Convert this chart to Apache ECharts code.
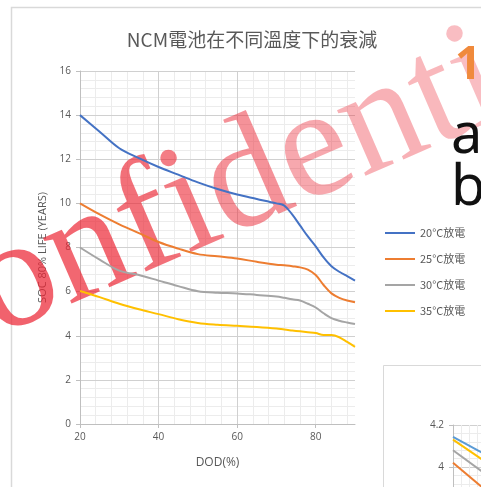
<!DOCTYPE html>
<html>
<head>
<meta charset="utf-8">
<script src="https://cdn.jsdelivr.net/npm/echarts@6/dist/echarts.min.js"></script>
<style>
  html, body { margin: 0; padding: 0; background: #ffffff; }
  #chart { width: 481px; height: 487px; }
</style>
</head>
<body>
<div id="chart"></div>
<script>
// Depth of discharge (%) sample points
const dod = [20, 25, 30, 35, 40, 45, 50, 55, 60, 65, 70, 72, 74, 76, 78, 80, 82, 84, 86, 88, 90];

// Life to 80% SOC (years) per discharge temperature
const life20 = [14.0, 13.25, 12.5, 12.05, 11.65, 11.3, 10.95, 10.65, 10.4, 10.2, 10.0, 9.9, 9.5, 9.0, 8.5, 8.05, 7.55, 7.15, 6.9, 6.7, 6.5];
const life25 = [10.0, 9.5, 9.05, 8.65, 8.25, 7.95, 7.7, 7.6, 7.5, 7.35, 7.22, 7.2, 7.15, 7.1, 7.0, 6.75, 6.3, 5.92, 5.72, 5.6, 5.52];
const life30 = [8.0, 7.45, 6.95, 6.75, 6.5, 6.25, 6.02, 5.95, 5.92, 5.85, 5.78, 5.72, 5.65, 5.6, 5.45, 5.28, 5.02, 4.8, 4.68, 4.6, 4.53];
const life35 = [6.03, 5.75, 5.45, 5.2, 4.98, 4.75, 4.58, 4.5, 4.45, 4.4, 4.33, 4.28, 4.24, 4.2, 4.16, 4.12, 4.03, 4.03, 3.93, 3.72, 3.5];

const seriesNames = ['20°C放電', '25°C放電', '30°C放電', '35°C放電'];
const xTicks = [20, 40, 60, 80];

// Second (partly visible) chart in the lower right corner
const insetX = [0, 2];
const insetBlue = [4.143, 4.04];
const insetYellow = [4.13, 4.0];
const insetGray = [4.08, 3.94];
const insetOrange = [4.02, 3.86];

const pair = (xs, ys) => xs.map((x, i) => [x, ys[i]]);

const labelColor = '#595959';
const axisColor = '#bfbfbf';
const majorGrid = '#d0d0d0';
const minorGrid = '#ececec';
const uiFont = '"Open Sans", "Noto Sans", sans-serif';

// Watermark: letters laid out along a tilted baseline, fading to the right
const wmText = 'Confidential';
const wmSize = 156;
const wmFamily = '"Liberation Serif", "DejaVu Serif", serif';
const wmAngle = 23.5 * Math.PI / 180;
const wmStart = [-115, 340];
const wmAlpha = [0.72, 0.72, 0.7, 0.66, 0.6, 0.5, 0.4, 0.36, 0.33, 0.3, 0.3, 0.3];

function watermarkLetters() {
  const ctx = document.createElement('canvas').getContext('2d');
  ctx.font = wmSize + 'px ' + wmFamily;
  const out = [];
  let s = 0;
  for (let i = 0; i < wmText.length; i++) {
    const ch = wmText[i];
    out.push({
      type: 'text', z: 2.5, silent: true,
      x: wmStart[0] + s * Math.cos(wmAngle),
      y: wmStart[1] - s * Math.sin(wmAngle),
      rotation: wmAngle,
      style: {
        text: ch,
        fontFamily: wmFamily,
        fontSize: wmSize,
        align: 'left',
        verticalAlign: 'middle',
        fill: 'rgba(236, 38, 52, ' + wmAlpha[i] + ')'
      }
    });
    s += ctx.measureText(ch).width;
  }
  return out;
}

const chart = echarts.init(document.getElementById('chart'), null, { renderer: 'canvas' });

const lineSeries = (name, ys, color) => ({
  name: name,
  type: 'line',
  xAxisIndex: 0,
  yAxisIndex: 0,
  data: pair(dod, ys),
  smooth: 0.35,
  showSymbol: false,
  symbol: 'none',
  lineStyle: { color: color, width: 2 },
  itemStyle: { color: color },
  z: 3
});

const insetSeries = (ys, color) => ({
  type: 'line',
  xAxisIndex: 2,
  yAxisIndex: 1,
  data: pair(insetX, ys),
  showSymbol: false,
  symbol: 'none',
  silent: true,
  lineStyle: { color: color, width: 2 },
  z: 3
});

const option = {
  backgroundColor: '#ffffff',
  animation: false,
  title: {
    text: 'NCM電池在不同溫度下的衰減',
    left: 247,
    top: 25,
    textAlign: 'center',
    textStyle: {
      fontFamily: '"Noto Sans CJK TC", "Noto Sans", sans-serif',
      fontSize: 19,
      fontWeight: 'normal',
      color: labelColor
    }
  },
  legend: {
    orient: 'vertical',
    left: 380,
    top: 221,
    icon: 'rect',
    itemWidth: 30,
    itemHeight: 2,
    itemGap: 12,
    data: seriesNames,
    textStyle: {
      fontFamily: '"Noto Sans CJK TC", sans-serif',
      fontSize: 11,
      color: labelColor,
      lineHeight: 14
    }
  },
  grid: [
    { left: 80, top: 71, width: 275, height: 353, outerBoundsMode: 'none' },
    { left: 453, top: 425, width: 200, height: 126, outerBoundsMode: 'none' }
  ],
  xAxis: [
    {
      type: 'value',
      gridIndex: 0,
      min: 20,
      max: 90,
      interval: 20,
      z: 2,
      axisLine: { show: true, lineStyle: { color: axisColor, width: 1 } },
      axisTick: { show: true, length: 4, lineStyle: { color: axisColor }, customValues: xTicks },
      axisLabel: {
        customValues: xTicks,
        margin: 8,
        fontFamily: uiFont,
        fontSize: 10,
        color: labelColor
      },
      splitLine: { show: true, showMinLine: false, showMaxLine: false, lineStyle: { color: majorGrid } },
      name: 'DOD(%)',
      nameLocation: 'middle',
      nameGap: 33,
      nameTextStyle: { fontFamily: uiFont, fontSize: 12, color: labelColor }
    },
    {
      // finer vertical grid every 4 %
      type: 'value',
      gridIndex: 0,
      position: 'top',
      min: 20,
      max: 90,
      interval: 4,
      z: 1,
      axisLine: { show: false },
      axisTick: { show: false },
      axisLabel: { show: false },
      splitLine: { show: true, showMinLine: false, showMaxLine: false, lineStyle: { color: minorGrid } }
    },
    {
      type: 'value',
      gridIndex: 1,
      min: 0,
      max: 10,
      interval: 2,
      axisLine: { show: true, lineStyle: { color: axisColor } },
      axisTick: { show: false },
      axisLabel: { show: false },
      splitLine: { show: true, lineStyle: { color: majorGrid } },
      minorSplitLine: { show: true, lineStyle: { color: minorGrid } }
    }
  ],
  yAxis: [
    {
      type: 'value',
      gridIndex: 0,
      min: 0,
      max: 16,
      interval: 2,
      z: 2,
      axisLine: { show: true, lineStyle: { color: axisColor, width: 1 } },
      axisTick: { show: true, length: 4, lineStyle: { color: axisColor } },
      axisLabel: { margin: 9, fontFamily: uiFont, fontSize: 10, color: labelColor },
      splitLine: { show: true, lineStyle: { color: majorGrid } },
      minorTick: { show: false, splitNumber: 5 },
      minorSplitLine: { show: true, lineStyle: { color: minorGrid } },
      name: 'SOC 80% LIFE (YEARS)',
      nameLocation: 'middle',
      nameGap: 28,
      nameTextStyle: { fontFamily: uiFont, fontSize: 11, color: labelColor }
    },
    {
      type: 'value',
      gridIndex: 1,
      min: 3.6,
      max: 4.2,
      interval: 0.2,
      axisLine: { show: true, lineStyle: { color: axisColor } },
      axisTick: { show: true, length: 4, lineStyle: { color: axisColor } },
      axisLabel: { margin: 9, fontFamily: uiFont, fontSize: 10, color: labelColor },
      splitLine: { show: true, lineStyle: { color: majorGrid } },
      minorSplitLine: { show: true, lineStyle: { color: minorGrid } }
    }
  ],
  series: [
    lineSeries(seriesNames[0], life20, '#4472C4'),
    lineSeries(seriesNames[1], life25, '#ED7D31'),
    lineSeries(seriesNames[2], life30, '#A5A5A5'),
    lineSeries(seriesNames[3], life35, '#FFC000'),
    insetSeries(insetOrange, '#ED7D31'),
    insetSeries(insetGray, '#A5A5A5'),
    insetSeries(insetYellow, '#FFC000'),
    insetSeries(insetBlue, '#5B9BD5')
  ],
  graphic: [
    // chart frames
    {
      type: 'rect', z: -10, silent: true,
      shape: { x: 11.5, y: 7.5, width: 700, height: 700 },
      style: { fill: 'none', stroke: '#d9d9d9', lineWidth: 1.5 }
    },
    {
      type: 'rect', z: -5, silent: true,
      shape: { x: 383.5, y: 365.5, width: 300, height: 300 },
      style: { fill: '#ffffff', stroke: '#d9d9d9', lineWidth: 1 }
    },
    // slide text on the right
    {
      type: 'text', z: 50, silent: true, left: 455, top: 43,
      style: { text: '1', fontFamily: '"Noto Sans", sans-serif', fontSize: 46, fontWeight: 'bold', fill: '#F08A3C' }
    },
    {
      type: 'text', z: 50, silent: true, left: 451, top: 109,
      style: { text: 'a)', fontFamily: '"Noto Sans", sans-serif', fontSize: 56, fill: '#111111' }
    },
    {
      type: 'text', z: 50, silent: true, left: 451, top: 161,
      style: { text: 'b)', fontFamily: '"Noto Sans", sans-serif', fontSize: 56, fill: '#111111' }
    }
  ].concat(watermarkLetters())
};

chart.setOption(option);
</script>
</body>
</html>
